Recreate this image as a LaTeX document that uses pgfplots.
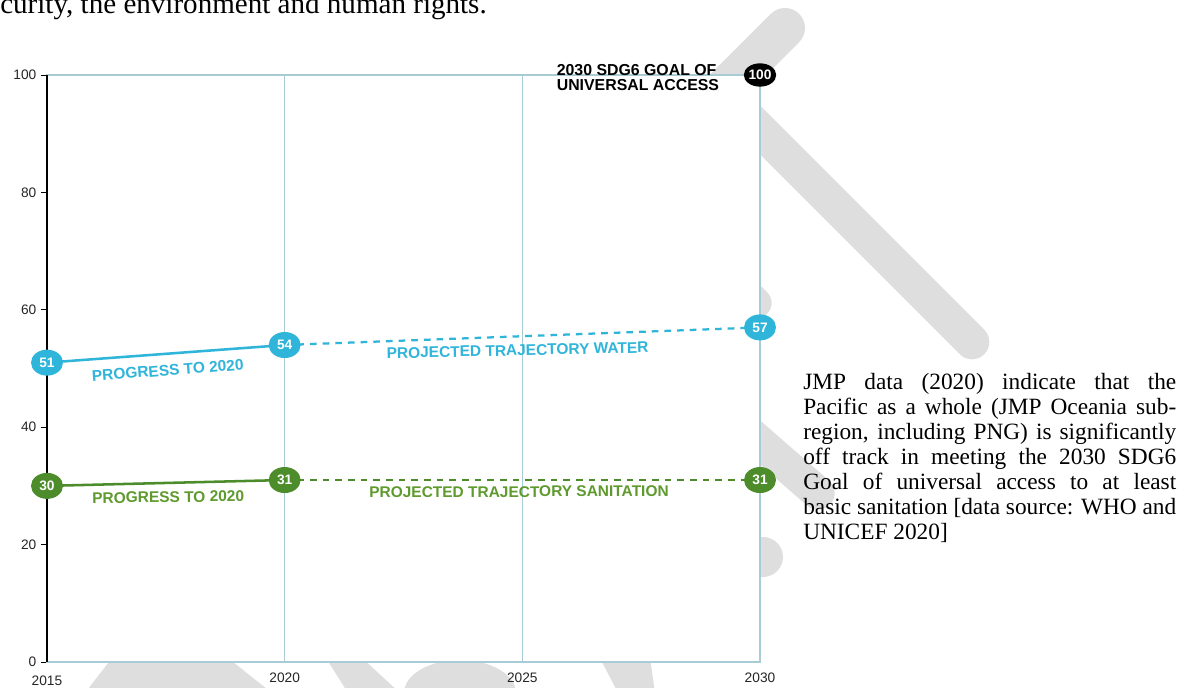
\documentclass[border=0pt]{standalone}
\usepackage{fontspec}
\setmainfont{Liberation Serif}
\newfontfamily\arial{Liberation Sans}
\usepackage{pgfplots}
\pgfplotsset{compat=1.18}
\usetikzlibrary{shapes.geometric}
\definecolor{wcol}{HTML}{2FB4DA}
\definecolor{scol}{HTML}{4C8C2B}
\definecolor{stxt}{HTML}{5E9A2E}
\definecolor{gridc}{HTML}{A7CCD6}
\definecolor{wm}{HTML}{DEDEDE}
\begin{document}
\begin{tikzpicture}
\begin{scope}[x=0.75pt,y=0.75pt]
\path[use as bounding box] (0,0) rectangle (1189,688);
\clip (0,0) rectangle (1189,688);
% watermark strokes
\begin{scope}[draw=wm, fill=wm, line cap=round]
\draw[line width=30pt] (785,660) -- (690,565);
\draw[line width=26pt] (740,578) -- (972,346);
\draw[line width=22pt] (715,428) -- (757,385);
\draw[line width=25pt] (740,263) -- (818,195);
\draw[line width=30pt] (730,128) -- (763,131);
\fill (85,-5) -- (112,30) -- (228,30) -- (272,-5) -- cycle;
\fill (326,30) -- (362,30) -- (400,-5) -- (348,-5) -- cycle;
\fill (460,-5) ellipse [x radius=56, y radius=33];
\fill (600,30) -- (650,30) -- (655,-5) -- (618,-5) -- cycle;
\end{scope}
% text
\node[anchor=base west, inner sep=0, font=\fontsize{21.8}{24}\selectfont] at (0,674) {curity, the environment and human rights.};
\node[anchor=north west, inner sep=0, text width=279.75pt, align=justify, font=\fontsize{17.5}{18.75}\selectfont] at (803,315)
{JMP data (2020) indicate that the\linebreak Pacific as a whole (JMP Oceania sub-\linebreak region, including PNG) is significantly\linebreak off track in meeting the 2030 SDG6\linebreak Goal of universal access to at least\linebreak basic sanitation [data source: WHO and\linebreak UNICEF 2020]};
\end{scope}
\begin{axis}[
  at={(35.25pt,19.5pt)}, anchor=south west,
  scale only axis, width=534.75pt, height=440.25pt,
  xmin=2015, xmax=2030, ymin=0, ymax=100,
  axis background/.style={fill=white},
  axis line style={draw=gridc, line width=0.8pt},
  xtick={2015,2020,2025,2030},
  xticklabels={\raisebox{-2.5pt}[\height][0pt]{2015},2020,2025,2030},
  ytick={0,20,40,60,80,100},
  xmajorgrids, major grid style={draw=gridc, line width=0.8pt},
  xtick style={draw=none},
  ytick style={draw=black, line width=0.6pt},
  ytick pos=left,
  tick align=outside, major tick length=4.5pt,
  tick label style={font=\arial\fontsize{10.3}{12}\selectfont, text=black!85},
  /pgf/number format/assume math mode=true,
  /pgf/number format/1000 sep={},
  clip=false,
]
\addplot[wcol, line width=1.9pt] coordinates {(2015,51) (2020,54)};
\addplot[wcol, line width=1.7pt, dash pattern=on 5pt off 4.5pt] coordinates {(2020,54) (2030,57)};
\addplot[scol, line width=1.9pt] coordinates {(2015,30) (2020,31)};
\addplot[scol, line width=1.7pt, dash pattern=on 5pt off 4.5pt] coordinates {(2020,31) (2030,31)};
\draw[black, line width=1pt] (rel axis cs:0,0) -- (rel axis cs:0,1);
% labels
\node[rotate=4.4, text=wcol, inner sep=0, font=\arial\bfseries\fontsize{11.6}{12}\selectfont] at (axis cs:2017.54,49.7) {PROGRESS TO 2020};
\node[rotate=1.3, text=wcol, inner sep=0, font=\arial\bfseries\fontsize{11.6}{12}\selectfont] at (axis cs:2024.9,53.1) {PROJECTED TRAJECTORY WATER};
\node[rotate=0.7, text=stxt, inner sep=0, font=\arial\bfseries\fontsize{11.6}{12}\selectfont] at (axis cs:2017.55,28.1) {PROGRESS TO 2020};
\node[rotate=0.3, text=stxt, inner sep=0, font=\arial\bfseries\fontsize{11.6}{12}\selectfont] at (axis cs:2024.93,29.0) {PROJECTED TRAJECTORY SANITATION};
\node[anchor=west, align=left, inner sep=0, font=\arial\bfseries\fontsize{11.9}{11.5}\selectfont] at (axis cs:2025.72,99.6) {2030 SDG6 GOAL OF\\UNIVERSAL ACCESS};
% markers
\addplot[draw=none, mark=none, point meta=y, nodes near coords, nodes near coords align=center,
  every node near coord/.style={ellipse, fill=wcol, text=white, inner sep=0pt, minimum width=24pt, minimum height=19.5pt, anchor=center, font=\arial\bfseries\fontsize{10.3}{10}\selectfont}]
  coordinates {(2015,51) (2020,54) (2030,57)};
\addplot[draw=none, mark=none, point meta=y, nodes near coords, nodes near coords align=center,
  every node near coord/.style={ellipse, fill=scol, text=white, inner sep=0pt, minimum width=24pt, minimum height=19.5pt, anchor=center, font=\arial\bfseries\fontsize{10.3}{10}\selectfont}]
  coordinates {(2015,30) (2020,31) (2030,31)};
\addplot[draw=none, mark=none, point meta=y, nodes near coords, nodes near coords align=center,
  every node near coord/.style={ellipse, fill=black, text=white, inner sep=0pt, minimum width=24pt, minimum height=17.5pt, anchor=center, font=\arial\bfseries\fontsize{10.3}{10}\selectfont}]
  coordinates {(2030,100)};
\end{axis}
\end{tikzpicture}
\end{document}
